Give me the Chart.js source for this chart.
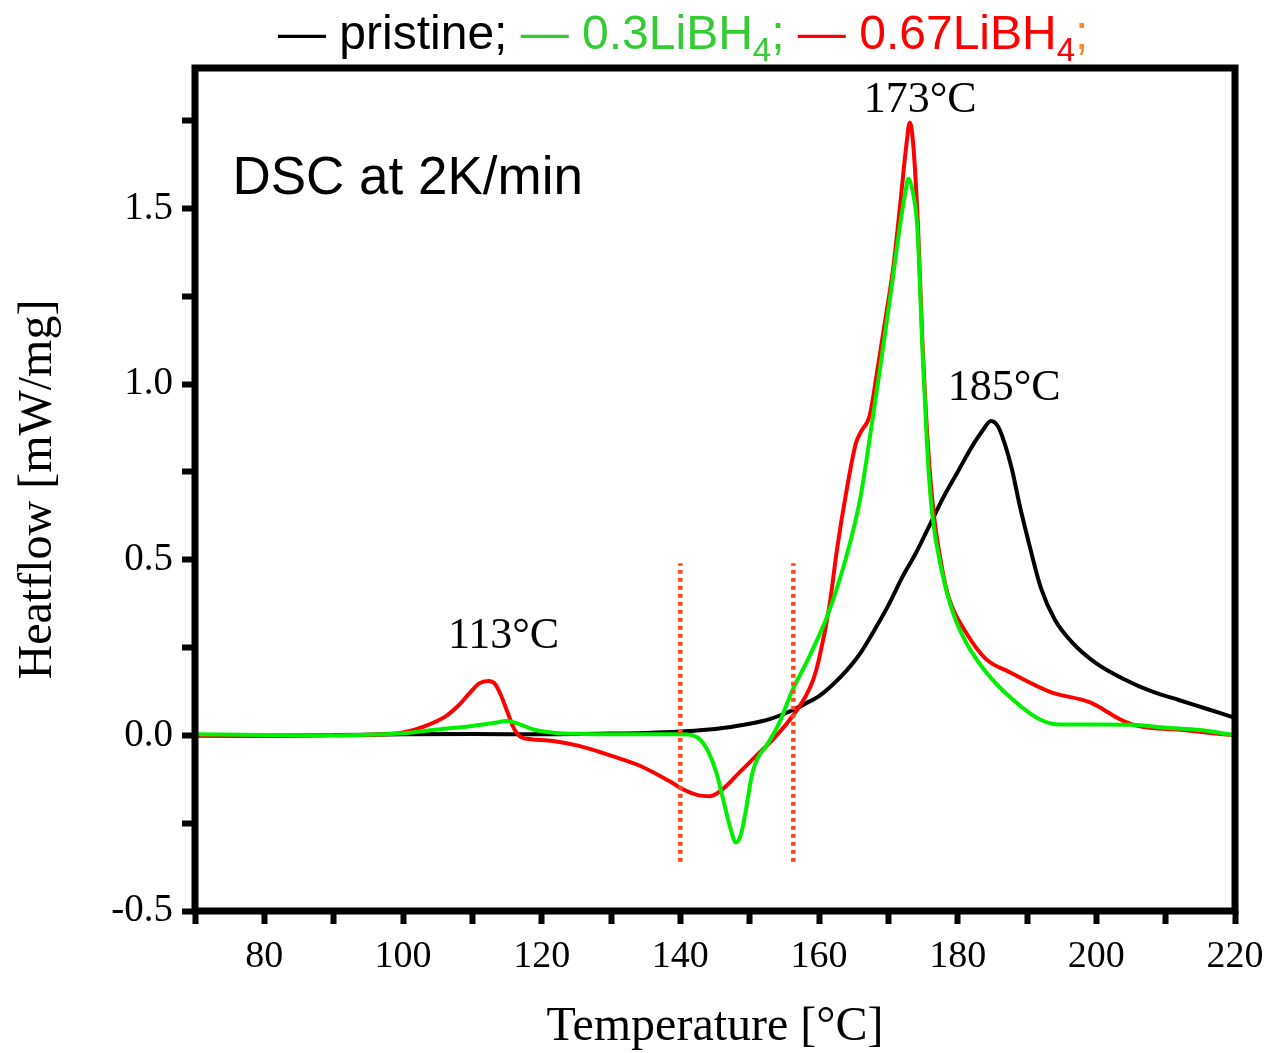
<!DOCTYPE html>
<html>
<head>
<meta charset="utf-8">
<script src="https://cdn.jsdelivr.net/npm/chart.js@4.4.0/dist/chart.umd.min.js"></script>
<style>
  html, body { margin: 0; padding: 0; background: #fff; }
</style>
</head>
<body>
<canvas id="dscChart" width="1268" height="1053"></canvas>
<script>
// temperatures (°C) and heat flow (mW/mg)
const pristineT = [70, 80, 90, 100, 110, 120, 130, 135, 140, 145, 150, 153, 156, 158, 160, 162, 164, 166, 168, 170, 172, 174, 176, 178, 180, 182, 183.5, 184.8, 185.8, 186.8, 187.8, 189, 190.5, 192, 194, 196.5, 200, 204, 208, 212, 216, 220];
const pristineH = [0, 0, 0.001, 0.003, 0.004, 0.003, 0.005, 0.007, 0.011, 0.018, 0.033, 0.047, 0.07, 0.09, 0.112, 0.145, 0.185, 0.235, 0.3, 0.37, 0.45, 0.52, 0.6, 0.68, 0.75, 0.82, 0.865, 0.895, 0.88, 0.83, 0.76, 0.65, 0.53, 0.42, 0.33, 0.265, 0.205, 0.16, 0.125, 0.1, 0.075, 0.05];

const li03T = [70, 80, 90, 95, 100, 105, 110, 113, 115, 117, 119, 122, 126, 130, 135, 140, 141.8, 143, 144, 145.2, 146.4, 147.3, 148, 148.7, 149.3, 150.4, 151.3, 152.4, 154.3, 156.2, 158, 159.1, 161, 163, 164.5, 166, 167.5, 169, 170.5, 171.6, 172.4, 172.9, 173.5, 174.2, 174.9, 175.6, 176.3, 177.8, 179.3, 181.2, 184.1, 187.9, 191.8, 194.7, 200, 205, 210, 215, 220];
const li03H = [0.003, 0.001, 0, 0.002, 0.006, 0.017, 0.027, 0.035, 0.041, 0.03, 0.016, 0.007, 0.004, 0.003, 0.003, 0.003, 0, -0.015, -0.045, -0.106, -0.2, -0.27, -0.305, -0.285, -0.23, -0.106, -0.06, -0.03, 0.037, 0.13, 0.2, 0.245, 0.33, 0.445, 0.55, 0.68, 0.87, 1.07, 1.28, 1.44, 1.54, 1.585, 1.55, 1.44, 1.11, 0.82, 0.635, 0.46, 0.35, 0.265, 0.18, 0.103, 0.046, 0.031, 0.031, 0.03, 0.022, 0.015, 0];

const li067T = [70, 80, 90, 95, 100, 103, 106.2, 108, 109.6, 111, 112.3, 113.2, 114, 115, 116, 117, 118.5, 121.6, 125.4, 130.2, 134, 138.4, 140.5, 142.5, 144.3, 146, 148.5, 150.9, 153.8, 156.2, 158.1, 159.2, 160, 161.5, 162.6, 164, 165.3, 166.1, 167.3, 168.5, 169.7, 170.7, 171.6, 172.6, 173.1, 173.6, 174.3, 174.9, 175.7, 176.5, 177.8, 178.8, 181.2, 184.1, 187.5, 193.3, 199.1, 201, 203.4, 205.8, 212.5, 220];
const li067H = [0, -0.002, 0, 0.002, 0.008, 0.025, 0.055, 0.085, 0.12, 0.148, 0.155, 0.148, 0.12, 0.07, 0.02, -0.005, -0.011, -0.016, -0.03, -0.059, -0.085, -0.13, -0.155, -0.17, -0.173, -0.155, -0.106, -0.059, -0.002, 0.055, 0.112, 0.16, 0.217, 0.368, 0.53, 0.7, 0.83, 0.866, 0.91, 1.05, 1.2, 1.33, 1.49, 1.68, 1.745, 1.68, 1.44, 1.13, 0.83, 0.64, 0.47, 0.387, 0.293, 0.217, 0.18, 0.124, 0.094, 0.074, 0.046, 0.028, 0.015, 0];

// the two dotted marker lines
const markerT = [140, 156.3];
const markerRange = [-0.36, 0.49];

const peakLabels = [
  { text: '113°C', t: 114.5, h: 0.25 },
  { text: '173°C', t: 174.6, h: 1.775 },
  { text: '185°C', t: 186.7, h: 0.955 },
];

const GREEN = '#00ee00';
const RED = '#ff0000';
const DOT = '#ff4a1c';

const toPoints = (xs, ys) => xs.map((x, i) => ({ x: x, y: ys[i] }));

const curve = (label, xs, ys, color, order) => ({
  label: label,
  data: toPoints(xs, ys),
  borderColor: color,
  borderWidth: 4,
  pointRadius: 0,
  fill: false,
  cubicInterpolationMode: 'monotone',
  order: order,
});

const markers = markerT.map(t => ({
  label: 'marker',
  data: [{ x: t, y: markerRange[0] }, { x: t, y: markerRange[1] }],
  borderColor: DOT,
  borderWidth: 4.5,
  borderDash: [4, 4],
  pointRadius: 0,
  fill: false,
  order: 0,
}));

// frame, header legend and text labels
const decorPlugin = {
  id: 'decor',
  afterDraw(chart) {
    const ctx = chart.ctx;
    const a = chart.chartArea;
    const xs = chart.scales.x, ys = chart.scales.y;
    ctx.save();

    ctx.lineWidth = 7;
    ctx.strokeStyle = '#000';
    ctx.strokeRect(a.left, a.top, a.right - a.left, a.bottom - a.top);

    ctx.fillStyle = '#000';
    ctx.textAlign = 'center';
    ctx.textBaseline = 'alphabetic';
    ctx.font = '44px "Liberation Serif", "Times New Roman", serif';
    peakLabels.forEach(p => {
      ctx.fillText(p.text, xs.getPixelForValue(p.t), ys.getPixelForValue(p.h));
    });

    ctx.textAlign = 'left';
    ctx.font = '53px "Liberation Sans", Arial, sans-serif';
    ctx.fillText('DSC at 2K/min', xs.getPixelForValue(75.4), ys.getPixelForValue(1.54));

    // header legend
    const big = '48px "Liberation Sans", Arial, sans-serif';
    const small = '33px "Liberation Sans", Arial, sans-serif';
    const parts = [
      { s: '— pristine; ', c: '#000', f: big, dy: 0 },
      { s: '— 0.3LiBH', c: '#33cc33', f: big, dy: 0 },
      { s: '4', c: '#33cc33', f: small, dy: 12 },
      { s: '; ', c: '#33cc33', f: big, dy: 0 },
      { s: '— 0.67LiBH', c: RED, f: big, dy: 0 },
      { s: '4', c: RED, f: small, dy: 12 },
      { s: ';', c: '#ff8a1e', f: big, dy: 0 },
    ];
    let x = 278;
    const base = 49;
    parts.forEach(p => {
      ctx.font = p.f;
      ctx.fillStyle = p.c;
      ctx.fillText(p.s, x, base + p.dy);
      x += ctx.measureText(p.s).width;
    });
    ctx.restore();
  }
};

const serif = '"Liberation Serif", "Times New Roman", serif';

const chart = new Chart(document.getElementById('dscChart').getContext('2d'), {
  type: 'line',
  data: {
    datasets: [
      ...markers,
      curve('0.3LiBH4', li03T, li03H, GREEN, 1),
      curve('0.67LiBH4', li067T, li067H, RED, 2),
      curve('pristine', pristineT, pristineH, '#000', 3),
    ],
  },
  options: {
    responsive: false,
    animation: false,
    devicePixelRatio: 1,
    layout: { padding: { top: 68, right: 33, left: 0, bottom: 0 } },
    plugins: {
      legend: { display: false },
      tooltip: { enabled: false },
    },
    scales: {
      x: {
        type: 'linear',
        min: 70,
        max: 220,
        afterFit: s => {
          s.height = 1053 - 911;
          s.paddingLeft = 0;
          s.paddingRight = 0;
        },
        ticks: {
          stepSize: 10,
          autoSkip: false,
          maxRotation: 0,
          padding: 10,
          color: '#000',
          font: { family: serif, size: 38 },
          callback: v => (v % 20 === 0 ? String(v) : ''),
        },
        grid: {
          drawOnChartArea: false,
          drawTicks: true,
          tickLength: 13,
          tickWidth: 6,
          tickColor: '#000',
        },
        border: { display: false },
        title: {
          display: true,
          text: 'Temperature [°C]',
          color: '#000',
          font: { family: serif, size: 48, lineHeight: 1 },
          padding: { top: 0, bottom: 2 },
        },
      },
      y: {
        type: 'linear',
        min: -0.5,
        max: 1.9,
        afterFit: s => {
          s.width = 195;
          s.paddingTop = 0;
          s.paddingBottom = 0;
        },
        afterBuildTicks: s => {
          s.ticks = s.ticks.filter(t => Math.abs(t.value * 4 - Math.round(t.value * 4)) < 1e-6);
        },
        ticks: {
          stepSize: 0.25,
          autoSkip: false,
          padding: 9,
          color: '#000',
          font: { family: serif, size: 39 },
          callback: v => (Math.abs(v * 2 - Math.round(v * 2)) < 1e-6 ? v.toFixed(1) : ''),
        },
        grid: {
          drawOnChartArea: false,
          drawTicks: true,
          tickLength: 13,
          tickWidth: 6,
          tickColor: '#000',
        },
        border: { display: false },
        title: {
          display: true,
          text: 'Heatflow [mW/mg]',
          color: '#000',
          font: { family: serif, size: 48, lineHeight: 1 },
          padding: { top: 14, bottom: 0 },
        },
      },
    },
  },
  plugins: [decorPlugin],
});
</script>
</body>
</html>
